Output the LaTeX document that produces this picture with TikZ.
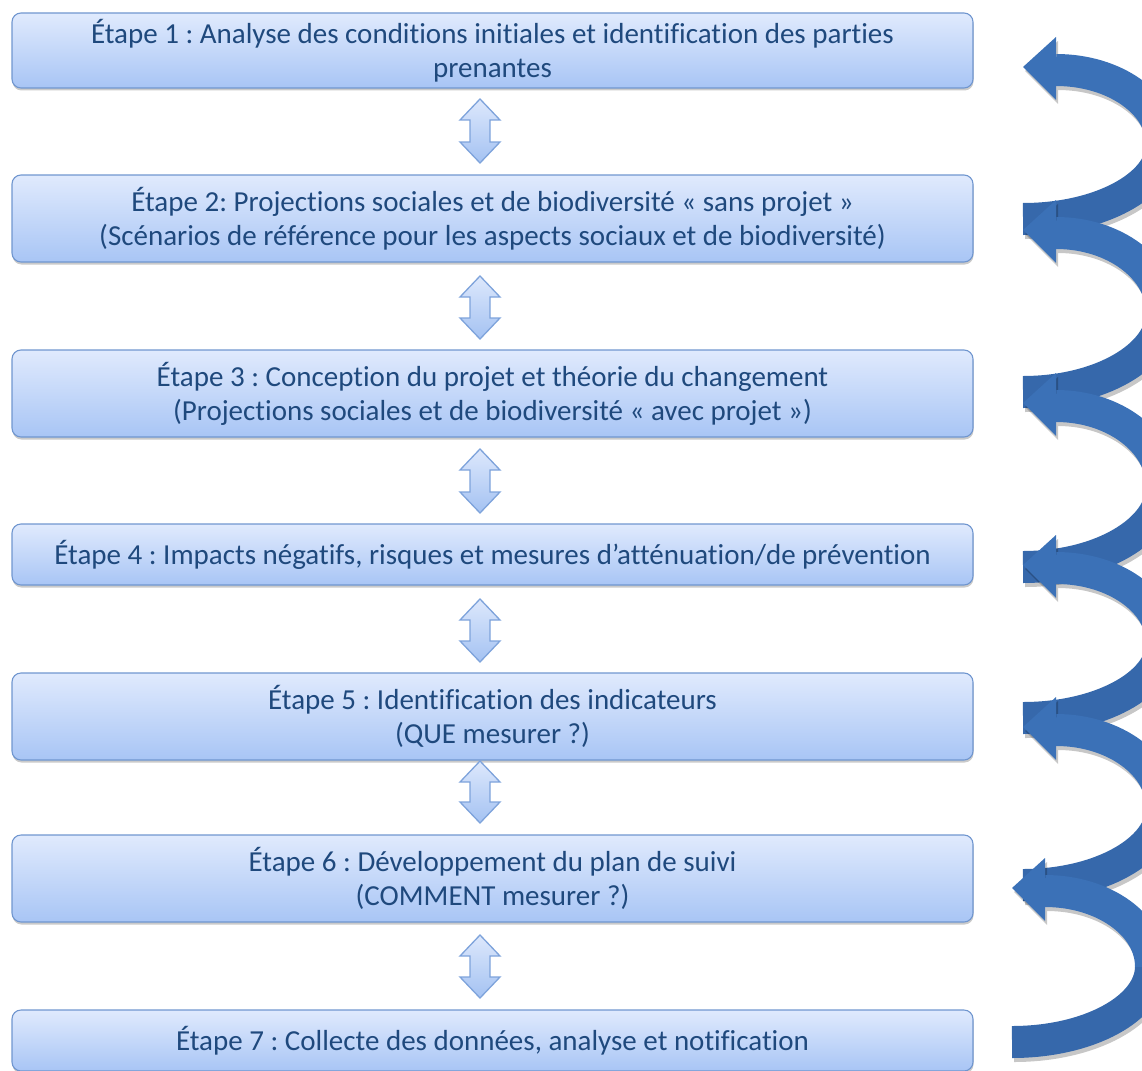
\documentclass[tikz,border=0pt]{standalone}
\usepackage{fontspec}
\setmainfont{Carlito}[Ligatures=NoCommon]
\frenchspacing
\usetikzlibrary{shadows,calc}
\definecolor{boxtop}{HTML}{E0EAFD}
\definecolor{boxbot}{HTML}{A8C5F5}
\definecolor{boxline}{HTML}{7096CF}
\definecolor{txt}{HTML}{1F497D}
\definecolor{arrlight}{HTML}{3B71B7}
\definecolor{arrdark}{HTML}{3668AB}
\definecolor{dbltop}{HTML}{DDE8FC}
\definecolor{dblbot}{HTML}{A4C2F2}
\definecolor{dblline}{HTML}{7EA3DB}
\newcommand\dblarr[2]{%
  \path[dblstyle] (#1) -- ($(#1)+(20,21)$) -- ($(#1)+(10,21)$) -- ($(#2)+(10,-21)$) -- ($(#2)+(20,-21)$) -- (#2)
    -- ($(#2)+(-20,-21)$) -- ($(#2)+(-10,-21)$) -- ($(#1)+(-10,21)$) -- ($(#1)+(-20,21)$) -- cycle;}
\newcommand\curvshape[5]{% #1 xtip #2 yhead #3 ytail #4 light #5 dark
  \pgfmathsetmacro\xb{#1+33}%
  \pgfmathsetmacro\yhh{#2+3}%
  \pgfmathsetmacro\ym{(\yhh+#3)/2}%
  \pgfmathsetmacro\xm{#1+139}%
  \draw[line width=32pt,#5] (#1,#3) .. controls ({#1+0.552*(\xm-#1)},#3) and (\xm,{\ym+0.552*(#3-\ym)}) .. (\xm,\ym);
  \draw[line width=32pt,#4] (\xm,\ym) .. controls (\xm,{\ym-0.552*(\ym-\yhh)}) and ({\xb+0.552*(\xm-\xb)},\yhh) .. (\xb,\yhh);
  \fill[#4] (#1,#2) -- (\xb,{#2-30}) -- (\xb,{#2+33}) -- cycle;}
\newcommand\curvarr[3]{%
  \begin{scope}[shift={(2,4)},transparency group,opacity=0.22]
    \curvshape{#1}{#2}{#3}{black}{black}
  \end{scope}
  \curvshape{#1}{#2}{#3}{arrlight}{arrdark}}
\begin{document}
\begin{tikzpicture}[x=1pt,y=-1pt,
  stepbox/.style={draw=boxline, line width=1.1pt, rounded corners=9pt,
    top color=boxtop, bottom color=boxbot, minimum width=961pt, align=center,
    text=txt, font=\fontsize{29}{34}\selectfont, inner sep=0pt,
    drop shadow={shadow xshift=0.5pt,shadow yshift=-2.5pt,opacity=0.35,fill=black!60}},
  dblstyle/.style={draw=dblline, line width=1.3pt, top color=dbltop, bottom color=dblbot}]
\useasboundingbox (0,0) rectangle (1142,1070);
\clip (0,0) rectangle (1142,1070);

\node[stepbox, minimum height=75pt] (s1) at (492.5,50.5) {Étape 1 : Analyse des conditions initiales et identification des parties\\prenantes};
\node[stepbox, minimum height=87pt] (s2) at (492.5,218.5) {Étape 2: Projections sociales et de biodiversité « sans projet »\\(Scénarios de référence pour les aspects sociaux et de biodiversité)};
\node[stepbox, minimum height=87pt] (s3) at (492.5,393.5) {Étape 3 : Conception du projet et théorie du changement\\(Projections sociales et de biodiversité « avec projet »)};
\node[stepbox, minimum height=61pt] (s4) at (492.5,554.5) {Étape 4 : Impacts négatifs, risques et mesures d’atténuation/de prévention};
\node[stepbox, minimum height=87pt] (s5) at (492.5,716.5) {Étape 5 : Identification des indicateurs\\(QUE mesurer ?)};
\node[stepbox, minimum height=87pt] (s6) at (492.5,878.5) {Étape 6 : Développement du plan de suivi\\(COMMENT mesurer ?)};
\node[stepbox, minimum height=61pt] (s7) at (492.5,1040.5) {Étape 7 : Collecte des données, analyse et notification};

\coordinate (d1t) at (480,99);  \coordinate (d1b) at (480,163);
\coordinate (d2t) at (480,276); \coordinate (d2b) at (480,339);
\coordinate (d3t) at (480,449); \coordinate (d3b) at (480,513);
\coordinate (d4t) at (480,599); \coordinate (d4b) at (480,662);
\coordinate (d5t) at (480,761); \coordinate (d5b) at (480,823);
\coordinate (d6t) at (480,935); \coordinate (d6b) at (480,998);
\dblarr{d1t}{d1b}
\dblarr{d2t}{d2b}
\dblarr{d3t}{d3b}
\dblarr{d4t}{d4b}
\dblarr{d5t}{d5b}
\dblarr{d6t}{d6b}

\curvarr{1023}{67}{219}
\curvarr{1023}{230}{392}
\curvarr{1023}{403}{567}
\curvarr{1023}{565}{718}
\curvarr{1023}{727}{885}
\curvarr{1012}{888}{1042}
\end{tikzpicture}
\end{document}
